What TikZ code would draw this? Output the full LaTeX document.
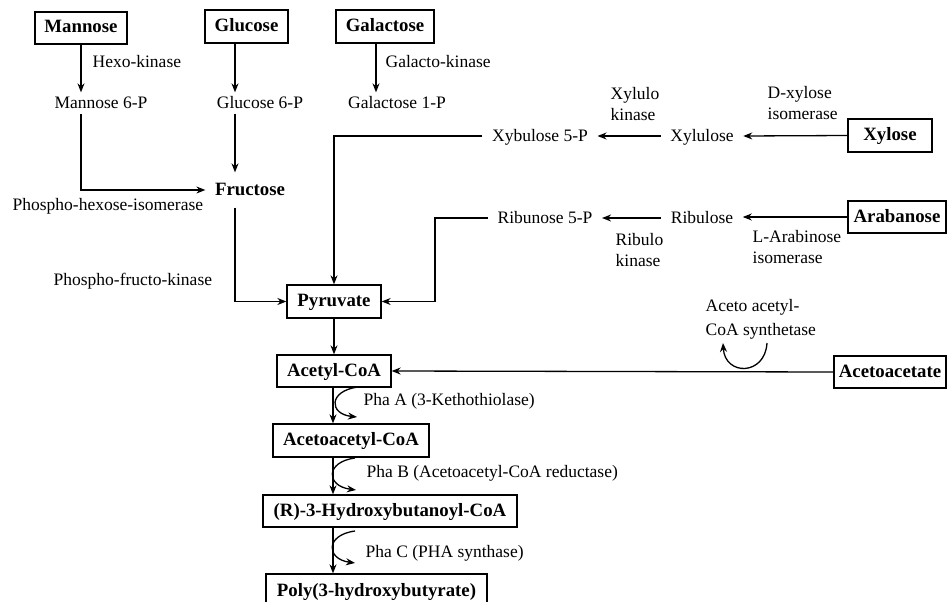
\documentclass[tikz,border=0pt]{standalone}
\usepackage{fontspec}
\setmainfont{Liberation Serif}
\usetikzlibrary{arrows.meta}
\begin{document}
\begin{tikzpicture}[x=1pt,y=-1pt,
  line width=1.3pt,
  arr/.style={-{Stealth[length=9pt,width=7pt]}},
  box/.style={draw, line width=1.3pt, font=\fontsize{18.8}{22}\selectfont\bfseries, text height=12pt, text depth=2pt, inner sep=0pt, minimum height=32pt},
  met/.style={font=\fontsize{17.5}{21}\selectfont, text height=12pt, text depth=2pt, inner xsep=9pt, inner ysep=3pt},
  lab/.style={font=\fontsize{17.5}{21}\selectfont, inner sep=0pt, anchor=west, align=left},
  labone/.style={lab, text height=12pt, text depth=2pt},
]
\fill[white] (0,0) rectangle (948,602);
\useasboundingbox (0,0) rectangle (948,602);

% boxes
\node[box, minimum width=92pt] (mannose) at (81,28) {Mannose};
\node[box, minimum width=83pt, minimum height=33pt] (glucose) at (246.5,26.5) {Glucose};
\node[box, minimum width=98pt, minimum height=33pt] (galactose) at (385,26.5) {Galactose};
\node[box, minimum width=84pt, minimum height=33pt] (xylose) at (890,135.5) {Xylose};
\node[box, minimum width=98pt] (arabanose) at (897,217) {Arabanose};
\node[box, minimum width=94pt, minimum height=33pt] (pyruvate) at (334,301.5) {Pyruvate};
\node[box, minimum width=114pt] (acetylcoa) at (334,371) {Acetyl-CoA};
\node[box, minimum width=156pt, minimum height=33pt] (acetoacetylcoa) at (351,440.5) {Acetoacetyl-CoA};
\node[box, minimum width=254pt] (hbcoa) at (390,511) {(R)-3-Hydroxybutanoyl-CoA};
\node[box, minimum width=221pt, minimum height=34pt] (phb) at (376.5,591) {Poly(3-hydroxybutyrate)};
\node[box, minimum width=112pt] (acetoacetate) at (890,372) {Acetoacetate};

% intermediate metabolites
\node[met] (m6p) at (101,103) {Mannose 6-P};
\node[met] (g6p) at (260,103) {Glucose 6-P};
\node[met] (gal1p) at (397,103) {Galactose 1-P};
\node[met, font=\fontsize{18.8}{22}\selectfont\bfseries, inner ysep=10pt] (fructose) at (250,190) {Fructose};
\node[met] (xyb5p) at (540,136) {Xybulose 5-P};
\node[met] (xylulose) at (702,136) {Xylulose};
\node[met] (rib5p) at (545,218) {Ribunose 5-P};
\node[met] (ribulose) at (702,218) {Ribulose};

% enzyme labels
\node[labone] (hexo) at (92,63) {Hexo-kinase};
\node[labone] (galk) at (385,63) {Galacto-kinase};
\node[lab] (xylk) at (610,104) {Xylulo\\kinase};
\node[lab] (dxi) at (767,103) {D-xylose\\isomerase};
\node[labone] (phi) at (12,205) {Phospho-hexose-isomerase};
\node[lab] (ribk) at (615,250) {Ribulo\\kinase};
\node[lab] (lai) at (752,247) {L-Arabinose\\isomerase};
\node[labone] (pfk) at (53,280) {Phospho-fructo-kinase};
\node[lab, font=\fontsize{17.5}{24}\selectfont] (aacs) at (705,319) {Aceto acetyl-\\CoA synthetase};
\node[labone] (phaA) at (363,400) {Pha A (3-Kethothiolase)};
\node[labone] (phaB) at (366,472) {Pha B (Acetoacetyl-CoA reductase)};
\node[labone] (phaC) at (365,552) {Pha C (PHA synthase)};

% helper coordinates
\coordinate (gx) at (235,0);
\coordinate (galx) at (376,0);
\coordinate (mx) at (81,0);
\coordinate (rx) at (435,0);
\coordinate (ax) at (333,0);

% connectors
\draw[arr] (mannose.south) -- (mannose.south |- m6p.north);
\draw[arr] (gx |- glucose.south) -- (gx |- g6p.north);
\draw[arr] (gx |- g6p.south) -- (gx |- fructose.north);
\draw[arr] (galx |- galactose.south) -- (galx |- gal1p.north);
\draw[arr] (mx |- m6p.south) -- (mx |- fructose.west) -- (fructose.west);
\draw[arr] (gx |- fructose.south) -- (gx |- pyruvate.west) -- (pyruvate.west);
\draw[arr] (xylose.west) -- (xylulose.east);
\draw[arr] (xylulose.west) -- (xyb5p.east);
\draw[arr] (xyb5p.west) -- (pyruvate.north |- xyb5p.west) -- (pyruvate.north);
\draw[arr] (arabanose.west) -- (arabanose.west -| ribulose.east);
\draw[arr] (ribulose.west) -- (rib5p.east);
\draw[arr] (rib5p.west) -- (rx |- rib5p.west) -- (rx |- pyruvate.east) -- (pyruvate.east);
\draw[arr] (pyruvate.south) -- (acetylcoa.north);
\draw[arr] (acetoacetate.west) -- (acetylcoa.east);
\draw[arr] (ax |- acetylcoa.south) -- (ax |- acetoacetylcoa.north);
\draw[arr] (ax |- acetoacetylcoa.south) -- (ax |- hbcoa.north);
\draw[arr] (ax |- hbcoa.south) -- (ax |- phb.north);

% side (cofactor) curved arrows
\coordinate (pas) at (358,387); \coordinate (pae) at (357,417);
\coordinate (pbs) at (355,458); \coordinate (pbe) at (356,490);
\coordinate (pcs) at (355,531); \coordinate (pce) at (355,563);
\coordinate (ss) at (767,343); \coordinate (se) at (723,343);
\draw[arr] (pas) .. controls (328,391) and (329,414) .. (pae);
\draw[arr] (pbs) .. controls (325,462) and (326,486) .. (pbe);
\draw[arr] (pcs) .. controls (325,535) and (326,559) .. (pce);
\draw[arr] (ss) .. controls (765,376) and (725,376) .. (se);
\end{tikzpicture}
\end{document}
